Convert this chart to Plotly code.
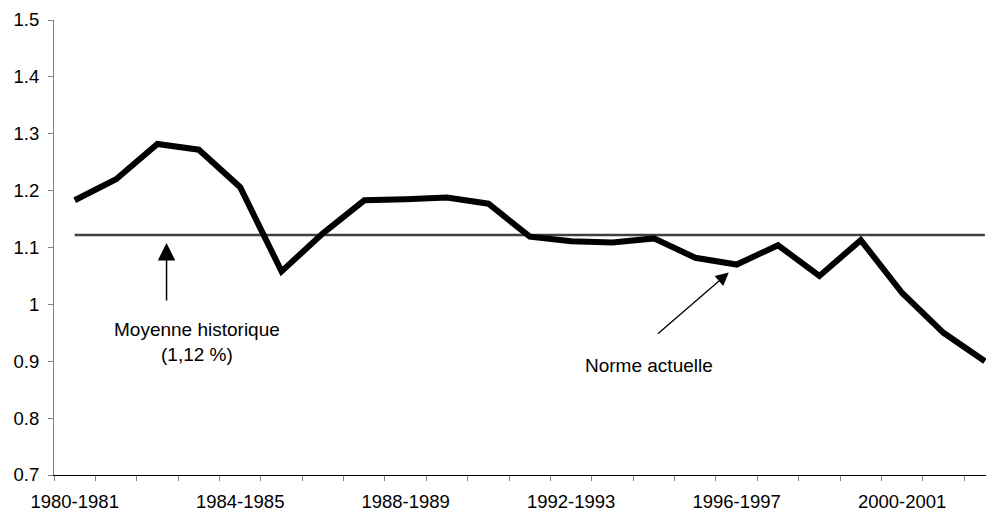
import plotly.graph_objects as go

categories = [f"{y}-{y+1}" for y in range(1980, 2003)]
taux = [1.183, 1.22, 1.282, 1.272, 1.206, 1.058, 1.125, 1.183, 1.185, 1.188, 1.177,
        1.119, 1.111, 1.109, 1.116, 1.082, 1.07, 1.104, 1.05, 1.113, 1.02, 0.95, 0.90]
moyenne = [1.122] * len(categories)
tick_labels = [c if i % 4 == 0 else "" for i, c in enumerate(categories)]

FONT = "Liberation Sans, Arial, sans-serif"

fig = go.Figure()
fig.add_trace(go.Scatter(x=categories, y=moyenne, mode="lines",
                         line=dict(color="#404040", width=2.5), showlegend=False,
                         hoverinfo="skip"))
fig.add_trace(go.Scatter(x=categories, y=taux, mode="lines",
                         line=dict(color="black", width=6), showlegend=False))

fig.update_xaxes(type="category", range=[-0.5, 22.22], tickmode="array",
                 tickvals=categories, ticktext=tick_labels, tickson="boundaries",
                 tickangle=0, automargin=False, ticklabelstandoff=10,
                 ticks="outside", ticklen=5, tickcolor="#808080", showgrid=False,
                 showline=True, linecolor="black", linewidth=1.2, zeroline=False,
                 tickfont=dict(family=FONT, size=18.5, color="black"))
fig.update_yaxes(range=[0.7, 1.5], dtick=0.1, tick0=0.7, ticks="outside", ticklen=5,
                 automargin=False, ticklabelstandoff=5,
                 tickcolor="#808080", showgrid=False, showline=True, linecolor="#808080",
                 linewidth=1.2, zeroline=False,
                 tickfont=dict(family=FONT, size=18.5, color="black"))

fig.add_annotation(x=2.22, y=1.108, ax=2.22, ay=1.004, axref="x", ayref="y",
                   xref="x", yref="y", text="", showarrow=True, arrowhead=2,
                   arrowwidth=1.5, arrowsize=2.33, arrowcolor="black")
fig.add_annotation(x=15.81, y=1.056, ax=14.06, ay=0.946, axref="x", ayref="y",
                   xref="x", yref="y", text="", showarrow=True, arrowhead=2,
                   arrowwidth=1.3, arrowsize=2, arrowcolor="black")
fig.add_annotation(x=2.95, y=0.933, xref="x", yref="y", showarrow=False,
                   text="Moyenne historique<br>(1,12 %)", align="center",
                   font=dict(family=FONT, size=19, color="black"))
fig.add_annotation(x=13.88, y=0.893, xref="x", yref="y", showarrow=False,
                   text="Norme actuelle",
                   font=dict(family=FONT, size=19, color="black"))

fig.update_layout(width=986, height=504, margin=dict(l=46, r=0, t=12, b=37),
                  paper_bgcolor="white", plot_bgcolor="white",
                  font=dict(family=FONT, color="black"))

fig.write_html("out.html")
